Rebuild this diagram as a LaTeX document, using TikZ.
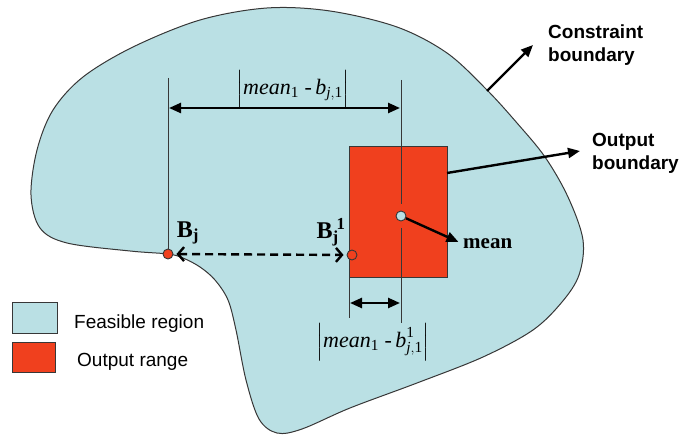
\documentclass[tikz,border=0pt]{standalone}
\usepackage{amsmath}
\usepackage{fontspec}
\setmainfont{Liberation Serif}
\setsansfont{Liberation Sans}
\usetikzlibrary{arrows.meta,positioning}

\definecolor{feasible}{RGB}{186,224,228}
\definecolor{outrange}{RGB}{240,64,30}
\definecolor{edge}{RGB}{55,55,55}
\newcommand{\mi}[1]{\text{\itshape #1}}

\begin{document}
\begin{tikzpicture}[
  x=1pt,y=-1pt,
  >={Triangle[length=12pt,width=10pt]},
  thin line/.style={edge,line width=0.8pt},
  dim/.style={<->,line width=2.4pt},
  ptr/.style={->,line width=2.4pt},
  reach/.style={{Straight Barb[length=6pt,width=14pt,line width=2.4pt]}-{Straight Barb[length=6pt,width=14pt,line width=2.4pt]},
                line width=2.4pt,dash pattern=on 8pt off 5pt},
  dot/.style={circle,draw=edge,line width=0.9pt,inner sep=0pt,minimum size=10pt,fill=#1},
  sanslbl/.style={font=\sffamily\bfseries\fontsize{19}{23}\selectfont,align=left,inner sep=0pt},
  seriflbl/.style={font=\bfseries\fontsize{21}{24}\selectfont,inner sep=0pt},
  pointlbl/.style={font=\bfseries\fontsize{24}{26}\selectfont,inner sep=0pt},
  mathlbl/.style={font=\fontsize{22}{24}\selectfont,inner sep=0pt},
  leglbl/.style={font=\sffamily\fontsize{19}{22}\selectfont,inner sep=0pt,anchor=west},
  legbox/.style={draw=edge,line width=0.9pt,fill=#1},
]
\useasboundingbox (0,0) rectangle (683,435);

% --- feasible region (constraint boundary) ---
\draw[edge,line width=1pt,fill=feasible] plot[smooth cycle,tension=0.55] coordinates {
  (168,254) (130,251) (67,243) (40,228) (31,195) (37,150) (53,110) (83,77)
  (133,47) (200,20) (267,8) (330,11) (397,27) (447,53) (487,90) (517,123)
  (545,157) (568,197) (583,240) (579,275) (562,302) (533,330) (483,357)
  (417,383) (350,408) (302,429) (277,433) (259,419) (246,380) (236,330)
  (228,300) (215,280) (200,267) (183,258)};

% --- output range ---
\node[draw=edge,line width=0.9pt,fill=outrange,minimum width=98pt,minimum height=131pt,
      inner sep=0pt,anchor=north west] (outbox) at (349,146) {};

% --- points ---
\node[dot=outrange] (bj)      at (168,254) {};
\node[dot=outrange] (bjone)   at (352,255) {};
\node[dot=feasible] (meandot) at (401,216) {};

% --- reference lines ---
\coordinate (lefttop) at (168,78);
\coordinate (midtop)  at (401,80);
\coordinate (midbot)  at (401,323);
\coordinate (boxbot)  at (349,318);
\draw[thin line] (lefttop) -- (bj);
\draw[thin line,shorten >=12pt] (midtop) -- (meandot.center);
\draw[thin line,shorten <=12pt] (meandot.center) -- (midbot);
\draw[thin line] (outbox.south west) -- (boxbot);

% --- distances ---
\draw[dim] (169,108) -- (400,108);
\node[mathlbl] (far) at (293,89)
  {$\left|\mi{mean}_{\text{1}}\text{ -}\,\mi{b}_{\mi{j},\text{1}}\vphantom{\Big|}\right|$};
\draw[dim] (350,303) -- (400,303);
\node[mathlbl] (near) at (373,342)
  {$\left|\mi{mean}_{\text{1}}\text{ -}\,\mi{b}^{\text{1}}_{\mi{j},\text{1}}\vphantom{\Big|}\right|$};
\draw[reach,shorten <=3pt,shorten >=3pt] (bj) -- (bjone);

% --- labels ---
\node[pointlbl] (bjlbl)    at (188,233) {B\textsubscript{j}};
\node[pointlbl] (bjonelbl) at (331,232) {B\textsubscript{j}\kern-2pt\textsuperscript{1}};
\node[seriflbl,anchor=west] (meanlbl) at (463,244) {mean};
\draw[ptr,shorten >=5pt] (meandot) -- (meanlbl.west);

\node[sanslbl,anchor=west] (cblbl) at (548,45) {Constraint\\boundary};
\coordinate (cbpt) at (487,91);
\draw[ptr] (cbpt) -- ([xshift=-15pt]cblbl.west);

\node[sanslbl,anchor=west] (oblbl) at (592,153) {Output\\boundary};
\coordinate (obpt) at (447,173);
\draw[ptr] (obpt) -- ([xshift=-12pt,yshift=2pt]oblbl.west);

% --- legend ---
\node[legbox=feasible,minimum width=45pt,minimum height=31pt] (legfeas) at (34.5,317.5) {};
\node[legbox=outrange,minimum width=43pt,minimum height=30pt] (legout)  at (33.5,357) {};
\node[leglbl] (feaslbl) at (74,324) {Feasible region};
\node[leglbl] (outlbl)  at (77,362) {Output range};

\end{tikzpicture}
\end{document}
